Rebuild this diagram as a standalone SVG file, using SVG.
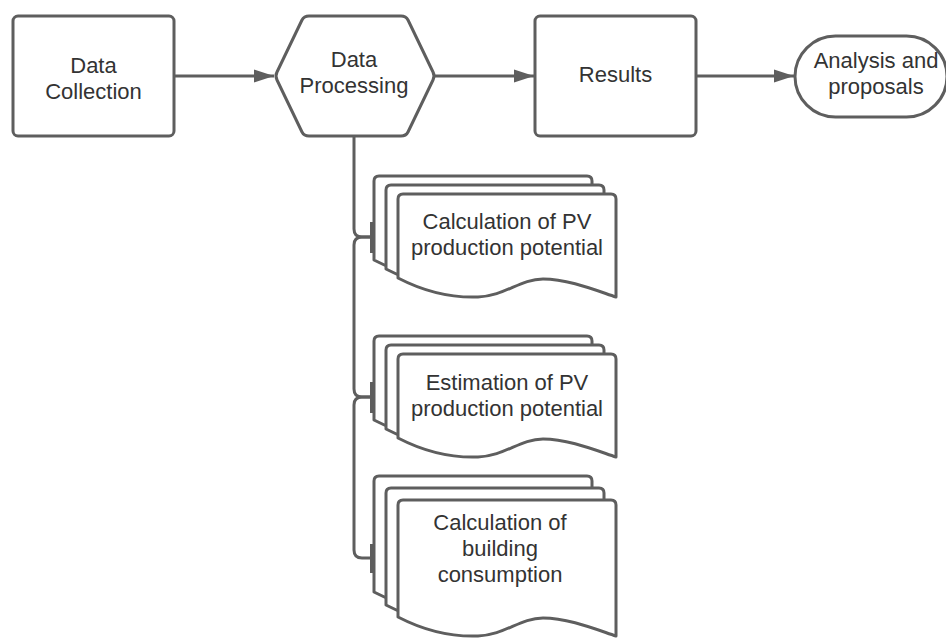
<svg xmlns="http://www.w3.org/2000/svg" width="946" height="638" viewBox="0 0 946 638">
  <style>
    .shape { fill: #ffffff; stroke: #5e5e5e; stroke-width: 3; stroke-linejoin: round; }
    .line { fill: none; stroke: #5e5e5e; stroke-width: 3; }
    .bar { stroke: #5e5e5e; stroke-width: 3; }
    .label { font-family: "Liberation Sans", Arial, sans-serif; font-size: 22px; fill: #333333; text-anchor: middle; }
  </style>
  <defs>
    <marker id="arrow" markerUnits="userSpaceOnUse" markerWidth="21" markerHeight="15" refX="20" refY="7" orient="auto">
      <path d="M0,0.5 L20,7 L0,13.5 Z" fill="#5e5e5e"/>
    </marker>
  </defs>
  <rect width="946" height="638" fill="#ffffff"/>

  <g id="connectors">
    <path class="line" d="M174,76 H274" marker-end="url(#arrow)"/>
    <path class="line" d="M435,76 H534" marker-end="url(#arrow)"/>
    <path class="line" d="M696,76 H794" marker-end="url(#arrow)"/>
    <path class="line" d="M354,136 V229 Q354,237 362,237 H372"/>
    <path class="line" d="M372,237 H362 Q354,237 354,245 V389 Q354,397 362,397 H372"/>
    <path class="line" d="M372,397 H362 Q354,397 354,405 V550 Q354,558 362,558 H372"/>
    <line class="bar" x1="371.5" y1="222" x2="371.5" y2="253"/>
    <line class="bar" x1="371.5" y1="382" x2="371.5" y2="413"/>
    <line class="bar" x1="371.5" y1="544" x2="371.5" y2="573"/>
  </g>

  <g id="data-collection">
    <rect class="shape" x="13" y="16" width="161" height="120" rx="5"/>
    <text class="label" x="93.5" y="73">Data</text>
    <text class="label" x="93.5" y="99">Collection</text>
  </g>

  <g id="data-processing">
    <path class="shape" d="M277,72 L302,20 Q304,16 309,16 H401 Q406,16 408,20 L433,72 Q435,76 433,80 L408,132 Q406,136 401,136 H309 Q304,136 302,132 L277,80 Q275,76 277,72 Z"/>
    <text class="label" x="354" y="67">Data</text>
    <text class="label" x="354" y="93">Processing</text>
  </g>

  <g id="results">
    <rect class="shape" x="535" y="16" width="161" height="120" rx="5"/>
    <text class="label" x="615.5" y="82">Results</text>
  </g>

  <g id="analysis">
    <rect class="shape" x="795" y="36" width="152" height="81" rx="40.5"/>
    <text class="label" x="876" y="68">Analysis and</text>
    <text class="label" x="876" y="94">proposals</text>
  </g>

  <g id="calc-pv">
    <path class="shape" d="M374,260 V181 Q374,176 379,176 H587 Q592,176 592,181 V279 C571,272 544,261 519,261 C496,261 481,278 454,279 C426,280 401,274 374,260 Z"/>
    <path class="shape" d="M386,269 V190 Q386,185 391,185 H599 Q604,185 604,190 V288 C583,281 556,270 531,270 C508,270 493,287 466,288 C438,289 413,283 386,269 Z"/>
    <path class="shape" d="M398,278 V199 Q398,194 403,194 H611 Q616,194 616,199 V297 C595,290 568,279 543,279 C520,279 505,296 478,297 C450,298 425,292 398,278 Z"/>
    <text class="label" x="507" y="229">Calculation of PV</text>
    <text class="label" x="507" y="255">production potential</text>
  </g>

  <g id="estim-pv">
    <path class="shape" d="M374,420 V341 Q374,336 379,336 H587 Q592,336 592,341 V439 C571,432 544,421 519,421 C496,421 481,438 454,439 C426,440 401,434 374,420 Z"/>
    <path class="shape" d="M386,429 V350 Q386,345 391,345 H599 Q604,345 604,350 V448 C583,441 556,430 531,430 C508,430 493,447 466,448 C438,449 413,443 386,429 Z"/>
    <path class="shape" d="M398,438 V359 Q398,354 403,354 H611 Q616,354 616,359 V457 C595,450 568,439 543,439 C520,439 505,456 478,457 C450,458 425,452 398,438 Z"/>
    <text class="label" x="507" y="390">Estimation of PV</text>
    <text class="label" x="507" y="416">production potential</text>
  </g>

  <g id="calc-building">
    <path class="shape" d="M374,592 V481 Q374,476 379,476 H587 Q592,476 592,481 V611 C571,604 544,593 519,593 C496,593 481,610 454,611 C426,612 401,606 374,592 Z"/>
    <path class="shape" d="M386,605 V493 Q386,488 391,488 H599 Q604,488 604,493 V624 C583,617 556,606 531,606 C508,606 493,623 466,624 C438,625 413,619 386,605 Z"/>
    <path class="shape" d="M398,617 V505 Q398,500 403,500 H611 Q616,500 616,505 V636 C595,629 568,618 543,618 C520,618 505,635 478,636 C450,637 425,631 398,617 Z"/>
    <text class="label" x="500" y="530">Calculation of</text>
    <text class="label" x="500" y="556">building</text>
    <text class="label" x="500" y="582">consumption</text>
  </g>
</svg>
